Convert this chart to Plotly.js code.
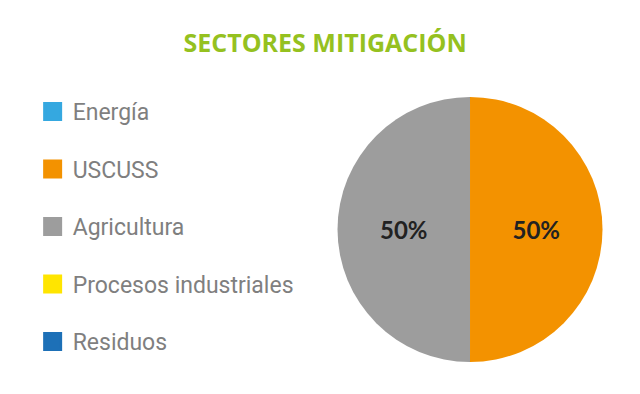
<!DOCTYPE html>
<html>
<head>
<meta charset="utf-8">
<script src="https://cdn.plot.ly/plotly-3.0.1.min.js"></script>
<style>html,body{margin:0;padding:0;background:#fff;}#chart{width:640px;height:394px;}</style>
</head>
<body>
<div id="chart"></div>
<script>
const sectors = ["Energía", "USCUSS", "Agricultura", "Procesos industriales", "Residuos"];
const shares = [0, 50, 50, 0, 0];
const colors = ["#35A8E0", "#F39200", "#9D9D9D", "#FFE500", "#1D70B7"];
const chartTitle = "SECTORES MITIGACIÓN";

const pieTrace = {
  type: "pie",
  labels: sectors,
  values: shares,
  marker: {colors: colors},
  sort: false,
  direction: "clockwise",
  rotation: 0,
  textinfo: "percent",
  texttemplate: "%{percent:.0%}",
  textposition: "inside",
  insidetextorientation: "horizontal",
  textfont: {family: "Lato, 'Open Sans', sans-serif", size: 24, color: "#222222", weight: "bold"},
  showlegend: false,
  hoverinfo: "label+percent",
  domain: {x: [0.5266, 0.9422], y: [0.0812, 0.7538]}
};

const legendTraces = sectors.map((name, i) => ({
  type: "scatter",
  mode: "markers",
  x: [null],
  y: [null],
  name: name,
  legendgroup: "g" + i,
  marker: {symbol: "square", size: 16, color: colors[i], line: {color: colors[i], width: 3}},
  showlegend: true,
  hoverinfo: "skip"
}));

const layout = {
  width: 640,
  height: 394,
  margin: {l: 0, r: 0, t: 0, b: 0},
  paper_bgcolor: "#ffffff",
  plot_bgcolor: "#ffffff",
  title: {
    text: "<b>" + chartTitle + "</b>",
    x: 0.508,
    xanchor: "center",
    y: 0.89,
    yanchor: "middle",
    font: {family: "'Open Sans', sans-serif", size: 25, color: "#95C11F"}
  },
  xaxis: {visible: false},
  yaxis: {visible: false},
  showlegend: true,
  legend: {
    x: 0.051,
    xanchor: "left",
    y: 1 - 90/394,
    yanchor: "top",
    traceorder: "grouped",
    tracegroupgap: 24.6,
    font: {family: "Roboto, sans-serif", size: 23, color: "#7F7F7F"},
    bgcolor: "rgba(0,0,0,0)",
    itemclick: false
  }
};

Plotly.newPlot("chart", [pieTrace].concat(legendTraces), layout, {displayModeBar: false, staticPlot: true});
</script>
</body>
</html>
